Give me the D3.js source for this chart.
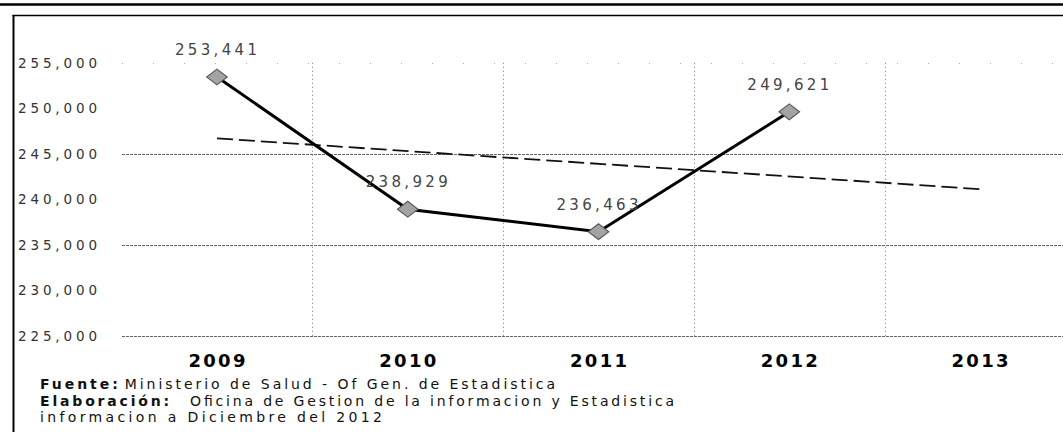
<!DOCTYPE html>
<html>
<head>
<meta charset="utf-8">
<script src="https://cdn.jsdelivr.net/npm/d3@7/dist/d3.min.js"></script>
<style>
  body { margin: 0; background: #fff; }
  svg { display: block; font-family: "DejaVu Sans", Verdana, sans-serif; }
</style>
</head>
<body>
<div id="chart"></div>
<script>
// data
const years = ["2009", "2010", "2011", "2012", "2013"];
const valueYears = ["2009", "2010", "2011", "2012"];
const values = [253441, 238929, 236463, 249621];
const trendYears = ["2009", "2013"];
const trendValues = [246700, 241130];
const yTicks = [225000, 230000, 235000, 240000, 245000, 250000, 255000];
const gridTicks = [225000, 235000, 245000];
const noteHeads = ["Fuente:", "Elaboración:", ""];
const noteBodies = ["Ministerio de Salud - Of Gen. de Estadistica", "Oficina de Gestion de la informacion y Estadistica", "informacion a  Diciembre del 2012"];

const W = 1063, H = 432;

const svg = d3.select("#chart").append("svg")
    .attr("width", W)
    .attr("height", H);

const x = d3.scaleBand()
    .domain(years)
    .range([121.6, 1075.4])
    .padding(0);
const cx = d => x(d) + x.bandwidth() / 2;

const y = d3.scaleLinear()
    .domain([225000, 255000])
    .range([336.1, 62.8]);

// frame lines
svg.append("line").attr("x1", 0).attr("x2", W).attr("y1", 4.5).attr("y2", 4.5)
    .attr("stroke", "#000").attr("stroke-width", 2.5);
svg.append("line").attr("x1", 12.5).attr("x2", W).attr("y1", 15.5).attr("y2", 15.5)
    .attr("stroke", "#000").attr("stroke-width", 1.5);
svg.append("line").attr("x1", 13.5).attr("x2", 13.5).attr("y1", 15).attr("y2", H)
    .attr("stroke", "#000").attr("stroke-width", 2);

// grid
svg.append("g").selectAll("line")
    .data(gridTicks)
    .join("line")
    .attr("x1", 122).attr("x2", W)
    .attr("y1", d => Math.round(y(d)) + 0.5).attr("y2", d => Math.round(y(d)) + 0.5)
    .attr("stroke", "#666").attr("stroke-width", 1)
    .attr("stroke-dasharray", "3,1");

svg.append("line")
    .attr("x1", 122).attr("x2", W)
    .attr("y1", Math.round(y(255000)) + 0.5).attr("y2", Math.round(y(255000)) + 0.5)
    .attr("stroke", "#aaa").attr("stroke-width", 1)
    .attr("stroke-dasharray", "1,30");

svg.append("g").selectAll("line")
    .data(years.slice(1))
    .join("line")
    .attr("x1", d => Math.round(x(d)) + 0.5).attr("x2", d => Math.round(x(d)) + 0.5)
    .attr("y1", y(255000)).attr("y2", y(225000))
    .attr("stroke", "#777").attr("stroke-width", 1)
    .attr("stroke-dasharray", "1,3");

// y axis labels
const yAxis = svg.append("g")
    .attr("transform", "translate(18,0)")
    .call(d3.axisLeft(y).tickValues(yTicks).tickFormat(d3.format(",")).tickSize(0).tickPadding(0));
yAxis.select(".domain").remove();
yAxis.selectAll("text")
    .attr("text-anchor", "start")
    .attr("x", 0)
    .attr("font-family", "DejaVu Sans, sans-serif")
    .attr("font-size", 13.5)
    .attr("fill", "#333")
    .attr("textLength", 79)
    .attr("lengthAdjust", "spacing");

// x axis labels
const xAxis = svg.append("g")
    .attr("transform", "translate(0,350)")
    .call(d3.axisBottom(x).tickSize(0).tickPadding(0));
xAxis.select(".domain").remove();
xAxis.selectAll("text")
    .attr("dy", "0.92em")
    .attr("font-family", "DejaVu Sans, sans-serif")
    .attr("font-size", 18)
    .attr("font-weight", "bold")
    .attr("fill", "#000")
    .attr("textLength", 57)
    .attr("lengthAdjust", "spacing");

// trend line
const trend = trendYears.map((d, i) => [cx(d), y(trendValues[i])]);
svg.append("path")
    .attr("d", d3.line()(trend))
    .attr("fill", "none")
    .attr("stroke", "#111")
    .attr("stroke-width", 1.8)
    .attr("stroke-dasharray", "16,6");

// main series
const pts = valueYears.map((d, i) => [cx(d), y(values[i])]);
svg.append("path")
    .attr("d", d3.line()(pts))
    .attr("fill", "none")
    .attr("stroke", "#000")
    .attr("stroke-width", 3);

svg.append("g").selectAll("path")
    .data(pts)
    .join("path")
    .attr("d", d3.symbol(d3.symbolSquare, 125))
    .attr("transform", d => `translate(${d[0]},${d[1]}) scale(1.3,1) rotate(45)`)
    .attr("fill", "#a3a3a3")
    .attr("stroke", "#555")
    .attr("stroke-width", 1);

svg.append("g").selectAll("text")
    .data(values)
    .join("text")
    .attr("x", (d, i) => cx(valueYears[i]) - 1)
    .attr("y", d => y(d) - 22)
    .attr("text-anchor", "middle")
    .attr("font-size", 15)
    .attr("fill", "#444")
    .attr("textLength", 82)
    .attr("lengthAdjust", "spacing")
    .text(d3.format(","));

// notes
const noteLengths = [515, 634, 342];
const notes = svg.append("g").selectAll("text")
    .data(noteBodies)
    .join("text")
    .attr("x", 40)
    .attr("y", (d, i) => 389 + i * 16.5)
    .attr("font-size", 14)
    .attr("fill", "#111")
    .attr("textLength", (d, i) => noteLengths[i])
    .attr("lengthAdjust", "spacing");
notes.append("tspan")
    .attr("font-weight", "bold")
    .text((d, i) => noteHeads[i]);
notes.append("tspan")
    .attr("dx", (d, i) => i === 1 ? 18 : (i === 0 ? 4 : 0))
    .text(d => d);
</script>
</body>
</html>
